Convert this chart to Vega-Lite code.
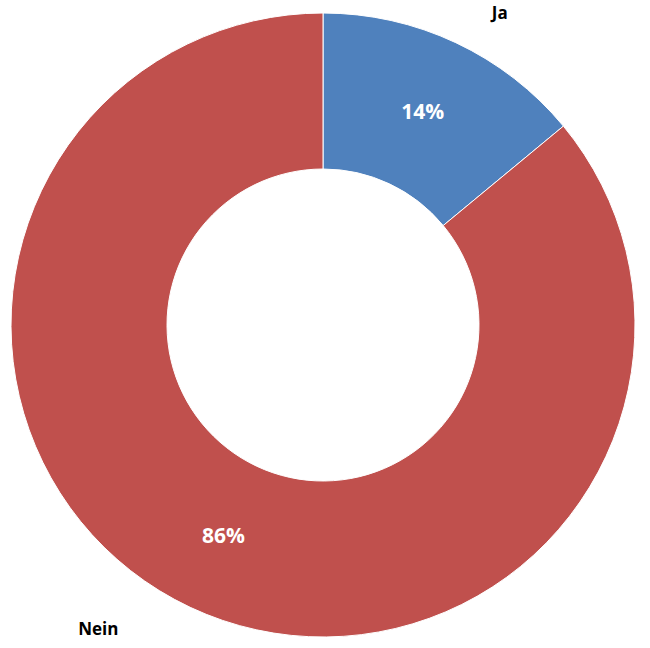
{
  "$schema": "https://vega.github.io/schema/vega-lite/v6.json",
  "width": 650,
  "height": 648,
  "autosize": {"type": "fit", "contains": "padding"},
  "padding": {"left": 0, "right": 4, "top": 2, "bottom": 0},
  "background": "white",
  "view": {"stroke": null},
  "data": {
    "values": [
      {"Antwort": "Ja", "Anteil": 14, "Label": "14%"},
      {"Antwort": "Nein", "Anteil": 86, "Label": "86%"}
    ]
  },
  "encoding": {
    "theta": {"field": "Anteil", "type": "quantitative", "stack": true},
    "order": {"field": "Antwort", "type": "nominal", "sort": "ascending"}
  },
  "layer": [
    {
      "mark": {"type": "arc", "outerRadius": 312, "innerRadius": 156, "stroke": "white", "strokeWidth": 1},
      "encoding": {
        "color": {
          "field": "Antwort",
          "type": "nominal",
          "scale": {"domain": ["Ja", "Nein"], "range": ["#4F81BD", "#C0504D"]},
          "legend": null
        }
      }
    },
    {
      "mark": {"type": "text", "radius": 234, "font": "Open Sans", "fontWeight": "bold", "fontSize": 21, "fill": "white", "align": "center", "baseline": "middle"},
      "encoding": {"text": {"field": "Label", "type": "nominal"}}
    },
    {
      "mark": {"type": "text", "radius": 340, "dx": 32, "dy": -3, "font": "Open Sans", "fontWeight": "bold", "fontSize": 17, "fill": "black", "align": "center", "baseline": "middle"},
      "encoding": {"text": {"condition": {"test": "datum.Antwort === 'Ja'", "field": "Antwort", "type": "nominal"}, "value": ""}}
    },
    {
      "mark": {"type": "text", "radius": 340, "dx": -80, "dy": -3, "font": "Open Sans", "fontWeight": "bold", "fontSize": 17, "fill": "black", "align": "center", "baseline": "middle"},
      "encoding": {"text": {"condition": {"test": "datum.Antwort === 'Nein'", "field": "Antwort", "type": "nominal"}, "value": ""}}
    }
  ]
}
